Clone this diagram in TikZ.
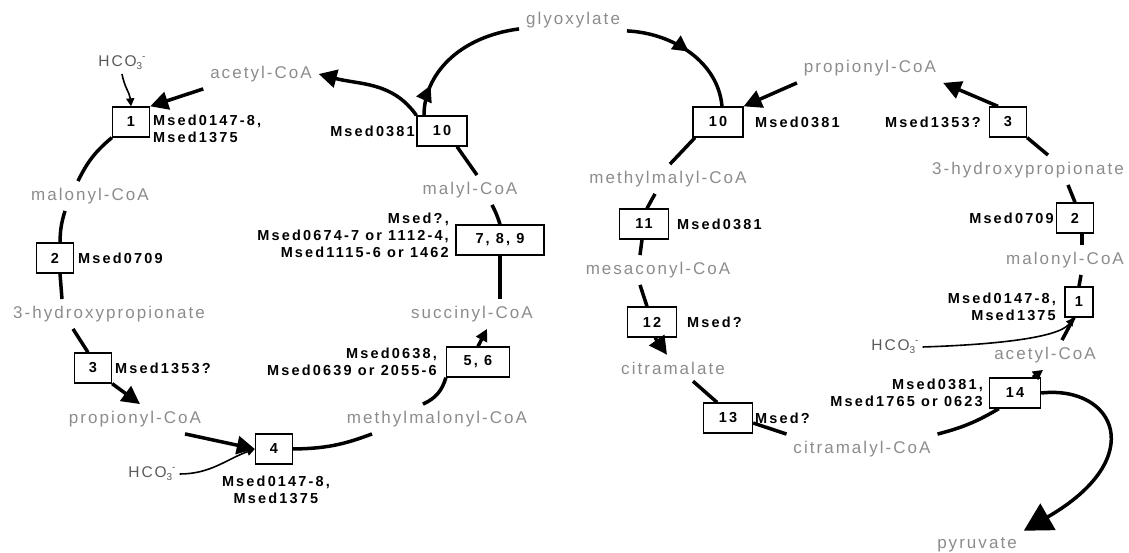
\documentclass[tikz,border=0pt]{standalone}
\usepackage{fontspec}
\setmainfont{Liberation Sans}
\newfontfamily\pathfont[LetterSpace=12]{Liberation Sans}
\newfontfamily\genefont[LetterSpace=15]{Liberation Sans}
\usepackage{xcolor}
\usepackage{tikz}
\usetikzlibrary{arrows.meta, decorations.markings}

\definecolor{metabgray}{HTML}{8C8C8C}
\definecolor{hcogray}{HTML}{5A5A5A}
\newcommand{\hcoiii}{HCO\raisebox{-3pt}{\fontsize{10}{10}\selectfont 3}\raisebox{7pt}{\fontsize{10}{10}\selectfont -}}

\begin{document}
\begin{tikzpicture}[x=1pt, y=1pt,
  metab/.style={text=metabgray, font=\pathfont\fontsize{17}{19}\selectfont, inner sep=0pt, outer sep=7pt},
  hco/.style={text=hcogray, font=\pathfont\fontsize{15.5}{17}\selectfont, inner sep=0pt, outer sep=4pt},
  enzbox/.style={draw, line width=1.3pt, fill=white, font=\genefont\bfseries\fontsize{14.5}{16}\selectfont, minimum width=37pt, minimum height=30pt, inner sep=0pt},
  gene/.style={font=\genefont\bfseries\fontsize{14.5}{17}\selectfont, inner sep=0pt},
  flow/.style={line width=3.5pt},
  bigtip/.style={flow, -{Triangle[length=18pt,width=18pt]}},
  thin/.style={line width=1.6pt, -{Triangle[length=8pt,width=8pt]}},
  midtip/.style={flow, postaction={decorate}, decoration={markings, mark=at position #1 with {\arrow{Triangle[length=16pt,width=16pt]}}}}
]
\useasboundingbox (0,0) rectangle (1129,553);

% 3-hydroxypropionate / 4-hydroxybutyrate side
\node[hco] (hcoA) at (122,490) {\hcoiii};
\node[metab] (acetylA) at (261,479) {acetyl-CoA};
\node[enzbox] (b1A) at (131,431) {1};
\node[gene, anchor=west, align=left] (g1A) at (153,424) {Msed0147-8,\\Msed1375};
\node[metab] (malonylA) at (90,357) {malonyl-CoA};
\node[enzbox] (b2A) at (55,295) {2};
\node[gene, anchor=west] (g2A) at (78,295) {Msed0709};
\node[metab] (hpA) at (109,239) {3-hydroxypropionate};
\node[enzbox] (b3A) at (93,185) {3};
\node[gene, anchor=west] (g3A) at (115,185) {Msed1353?};
\node[metab] (propA) at (135,134) {propionyl-CoA};
\node[enzbox] (b4A) at (274,104) {4};
\node[hco] (hcoB) at (152,79) {\hcoiii};
\node[gene, align=center] (g4A) at (276,63) {Msed0147-8,\\Msed1375};
\node[metab] (mmcoaA) at (437,134) {methylmalonyl-CoA};
\node[enzbox, minimum width=63pt] (b56A) at (478,191) {5, 6};
\node[gene, anchor=east, align=right] (g56A) at (437,191) {Msed0638,\\Msed0639 or 2055-6};
\node[metab] (succA) at (472,239) {succinyl-CoA};
\node[enzbox, minimum width=88pt] (b789A) at (500,313) {7, 8, 9};
\node[gene, anchor=east, align=right] (g789A) at (449,318) {Msed?,\\Msed0674-7 or 1112-4,\\Msed1115-6 or 1462};
\node[metab] (malylA) at (470,363) {malyl-CoA};
\node[enzbox, minimum width=50pt] (b10A) at (442,422) {10};
\node[gene, anchor=east] (g10A) at (415,422) {Msed0381};
\node[metab] (glyox) at (573,533) {glyoxylate};

% glyoxylate assimilation side
\node[enzbox, minimum width=50pt] (b10B) at (718,431) {10};
\node[gene, anchor=west] (g10B) at (755,431) {Msed0381};
\node[metab] (propB) at (870,485) {propionyl-CoA};
\node[metab] (mmalB) at (668,374) {methylmalyl-CoA};
\node[enzbox, minimum width=49pt] (b11B) at (644,329) {11};
\node[gene, anchor=west] (g11B) at (677,329) {Msed0381};
\node[metab] (mesaB) at (658,283) {mesaconyl-CoA};
\node[enzbox, minimum width=49pt] (b12B) at (652,231) {12};
\node[gene, anchor=west] (g12B) at (687,231) {Msed?};
\node[metab] (citraB) at (673,185) {citramalate};
\node[enzbox, minimum width=49pt] (b13B) at (728,135) {13};
\node[gene, anchor=west] (g13B) at (755,135) {Msed?};
\node[metab] (citlB) at (862,104) {citramalyl-CoA};
\node[enzbox, minimum width=51pt] (b14B) at (1015,160) {14};
\node[gene, anchor=east, align=right] (g14B) at (983,160) {Msed0381,\\Msed1765 or 0623};
\node[metab] (acetB) at (1045,198) {acetyl-CoA};
\node[metab] (pyrB) at (977,8) {pyruvate};
\node[hco] (hcoC) at (895,206) {\hcoiii};
\node[enzbox, minimum width=28pt] (b1B) at (1079,251) {1};
\node[gene, anchor=east, align=right] (g1B) at (1056,246) {Msed0147-8,\\Msed1375};
\node[metab] (malB) at (1065,293) {malonyl-CoA};
\node[enzbox] (b2B) at (1075,335) {2};
\node[gene, anchor=east] (g2B) at (1054,335) {Msed0709};
\node[metab] (hpB) at (1028,383) {3-hydroxypropionate};
\node[enzbox] (b3B) at (1008,431) {3};
\node[gene, anchor=east] (g3B) at (981,431) {Msed1353?};

% left cycle
\draw[thin] (hcoA.south) to[out=-80, in=95] (b1A.north);
\draw[bigtip] (acetylA.south west) -- (b1A.north east);
\draw[flow] (b1A.south west) to[bend right=12] ([xshift=-12pt]malonylA.north);
\draw[flow] ([xshift=-25pt]malonylA.south) to[bend right=8] ([xshift=5pt]b2A.north);
\draw[flow] ([xshift=5pt]b2A.south) -- ([xshift=-47pt]hpA.north);
\draw[flow] ([xshift=-36pt]hpA.south) -- ([xshift=-5pt]b3A.north);
\draw[bigtip] (b3A.south east) -- ([xshift=5pt]propA.north);
\draw[bigtip] ([xshift=50pt]propA.south) -- (b4A.west);
\draw[thin] (hcoB.east) to[out=0, in=200] (b4A.west);
\draw[flow] (b4A.east) to[bend right=10] ([xshift=-65pt]mmcoaA.south);
\draw[flow] ([xshift=-14pt]mmcoaA.north) to[bend right=25] (b56A.south west);
\draw[flow, -{Triangle[length=12pt,width=12pt]}] (b56A.north) -- ([xshift=15pt]succA.south);
\draw[flow] ([xshift=28pt]succA.north) -- (b789A.south);
\draw[flow] (b789A.north) to[bend right=5] ([xshift=22pt]malylA.south);
\draw[flow] ([xshift=7pt]malylA.north) -- ([xshift=15pt]b10A.south);
\draw[bigtip] (b10A.north west) to[out=125, in=-15] (acetylA.east);
\draw[midtip=0.22] ([xshift=-18pt]b10A.north) .. controls (424,478) and (458,516) .. ([yshift=6pt]glyox.south west);

% right branch
\draw[midtip=0.5] ([yshift=4pt]glyox.south east) .. controls (672,520) and (718,492) .. ([xshift=4pt]b10B.north);
\draw[bigtip] (propB.south west) -- (b10B.north east);
\draw[flow] ([xshift=-23pt]b10B.south) -- ([xshift=2pt]mmalB.north);
\draw[flow] ([xshift=-13pt]mmalB.south) -- ([xshift=3pt]b11B.north);
\draw[flow] ([xshift=-2pt]b11B.south) -- ([xshift=-18pt]mesaB.north);
\draw[flow] ([xshift=-18pt]mesaB.south) -- ([xshift=-5pt]b12B.north);
\draw[bigtip] ([xshift=3pt]b12B.south) -- ([xshift=-6pt]citraB.north);
\draw[flow] ([xshift=20pt]citraB.south) -- ([xshift=-11pt]b13B.north);
\draw[flow] ([yshift=-5pt]b13B.east) -- (citlB.north west);
\draw[flow] (citlB.north east) to[bend right=8] ([xshift=10pt]b14B.south west);
\draw[flow, -{Triangle[length=10pt,width=10pt]}] ([xshift=18pt]b14B.north) -- ([xshift=-2pt]acetB.south);
\draw[flow, -{Triangle[length=28pt,width=30pt]}] (b14B.east) .. controls (1115,168) and (1150,95) .. (pyrB.north east);
\draw[thin] (hcoC.east) .. controls (985,208) and (1058,214) .. ([xshift=-5pt]b1B.south);
\draw[flow] ([xshift=17pt]acetB.north) -- ([xshift=-5pt]b1B.south);
\draw[flow] (b1B.north) -- ([xshift=16pt]malB.south);
\draw[flow] ([xshift=17pt]malB.north) -- ([xshift=7pt]b2B.south);
\draw[flow] (b2B.north) -- ([xshift=40pt]hpB.south);
\draw[flow] ([xshift=20pt]hpB.north) -- (b3B.south east);
\draw[bigtip] ([xshift=-10pt]b3B.north) -- (propB.south east);

\end{tikzpicture}
\end{document}
